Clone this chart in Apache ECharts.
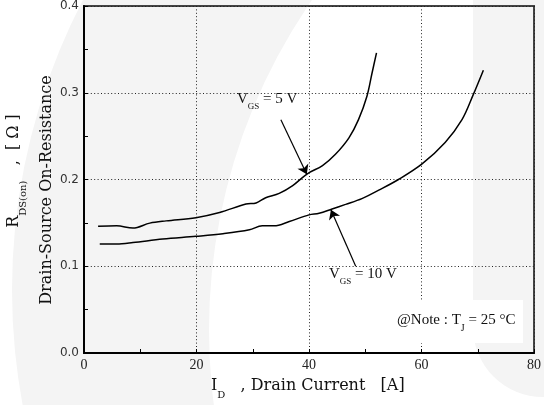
<!DOCTYPE html>
<html><head><meta charset="utf-8">
<script src="https://cdn.jsdelivr.net/npm/echarts@6/dist/echarts.min.js"></script>
<style>html,body{margin:0;padding:0;background:#fff}#c{width:544px;height:405px}</style>
</head><body><div id="c"></div>
<script>
// ---- data ----
const xTicks = [0, 20, 40, 60, 80];
const yTicks = [0.0, 0.1, 0.2, 0.3, 0.4];
// VGS = 5 V
const id5 = [2.5, 5.8, 8.7, 11.7, 14.6, 19.9, 24.1, 28.8, 30.6, 32.3, 34.7, 37.1, 39.7, 42.4, 44.7, 47.1, 48.8, 50.3, 51.2, 52.0];
const r5  = [0.146, 0.1466, 0.144, 0.1497, 0.1523, 0.156, 0.162, 0.1717, 0.173, 0.179, 0.184, 0.193, 0.2066, 0.216, 0.229, 0.248, 0.269, 0.296, 0.3225, 0.346];
// VGS = 10 V
const id10 = [2.8, 5.8, 8.7, 14.0, 19.9, 24.7, 29.4, 31.7, 33.8, 36.5, 40.0, 41.8, 44.1, 46.5, 49.4, 52.4, 55.9, 60.1, 64.2, 67.2, 69.2, 71.0];
const r10  = [0.1257, 0.1257, 0.1273, 0.1314, 0.1345, 0.1375, 0.142, 0.1466, 0.1466, 0.1516, 0.1592, 0.161, 0.166, 0.1713, 0.178, 0.1877, 0.2, 0.218, 0.2427, 0.269, 0.2978, 0.326];
// annotation arrows (data coordinates: start -> head)
const arrow5  = [[35.0, 0.269], [39.6, 0.206]];
const arrow10 = [[48.3, 0.100], [43.9, 0.165]];

const GREY = '#f4f4f4';
const serif = 'DejaVu Serif';
const lserif = 'Liberation Serif';

function pairs(xs, ys) { return xs.map((x, i) => [x, ys[i]]); }

const chart = echarts.init(document.getElementById('c'), null, {renderer: 'canvas'});

const subRich = (fam, big, small, pad) => ({
  m: {fontFamily: fam, fontSize: big, lineHeight: big + 2, fill: '#111'},
  s: {fontFamily: fam, fontSize: small, lineHeight: big + 2, fill: '#111', padding: [pad, 0, 0, 0]}
});

const markArrow = (a) => ({
  silent: true,
  symbol: ['none', 'arrow'],
  symbolSize: 9,
  label: {show: false},
  lineStyle: {color: '#000', width: 1.2, type: 'solid'},
  emphasis: {disabled: true},
  data: [[{coord: a[0]}, {coord: a[1]}]]
});

chart.setOption({
  animation: false,
  backgroundColor: '#fff',
  grid: {left: 84, right: 8, top: 2, bottom: 52, show: true, borderColor: '#444', borderWidth: 2, backgroundColor: 'transparent'},
  xAxis: {
    type: 'value', min: xTicks[0], max: xTicks[xTicks.length - 1], interval: 20,
    axisLine: {lineStyle: {color: '#000', width: 2}},
    axisTick: {inside: true, length: 4, lineStyle: {color: '#000', width: 1}},
    minorTick: {show: true, splitNumber: 2, length: 4, lineStyle: {color: '#000', width: 1}},
    axisLabel: {margin: 5, color: '#222', fontFamily: lserif, fontSize: 14,
      formatter: v => xTicks.includes(v) ? String(v) : ''},
    splitLine: {show: true, lineStyle: {color: '#222', width: 1, type: [1, 2.4]}}
  },
  yAxis: {
    type: 'value', min: yTicks[0], max: yTicks[yTicks.length - 1], interval: 0.1,
    axisLine: {show: true, lineStyle: {color: '#000', width: 2}},
    axisTick: {show: true, inside: true, length: 4, lineStyle: {color: '#000', width: 1}},
    minorTick: {show: true, splitNumber: 2, length: 4, lineStyle: {color: '#000', width: 1}},
    axisLabel: {margin: 5, color: '#333', fontFamily: 'DejaVu Sans', fontSize: 12,
      formatter: v => v.toFixed(1)},
    splitLine: {show: true, lineStyle: {color: '#222', width: 1, type: [1, 2.4]}}
  },
  series: [
    {type: 'line', name: 'VGS = 5 V', data: pairs(id5, r5), showSymbol: false, smooth: 0.35,
     lineStyle: {color: '#000', width: 1.5}, z: 5, markLine: markArrow(arrow5)},
    {type: 'line', name: 'VGS = 10 V', data: pairs(id10, r10), showSymbol: false, smooth: 0.35,
     lineStyle: {color: '#000', width: 1.5}, z: 5, markLine: markArrow(arrow10)}
  ],
  graphic: [
    // watermark
    {type: 'circle', z: -100, silent: true, shape: {cx: 640, cy: 290, r: 628}, style: {fill: GREY}},
    {type: 'circle', z: -99, silent: true, shape: {cx: 789, cy: 330, r: 580}, style: {fill: '#fff'}},
    {type: 'rect', z: -98, silent: true, shape: {x: 473, y: -100, width: 200, height: 497, r: 70}, style: {fill: GREY}},
    // note box
    {type: 'rect', z: 50, silent: true, shape: {x: 390, y: 300, width: 133, height: 43}, style: {fill: '#fff'}},
    {type: 'text', z: 51, x: 397, y: 320, style: {
      text: '{m|@Note : T}{s|J}{m| = 25 °C}', align: 'left', verticalAlign: 'middle',
      rich: subRich(lserif, 15, 10, 16)}},
    // curve labels
    {type: 'text', z: 51, x: 237, y: 99, style: {
      text: '{m|V}{s|GS}{m| = 5 V}', align: 'left', verticalAlign: 'middle',
      rich: subRich(lserif, 15, 9, 16)}},
    {type: 'text', z: 51, x: 329, y: 274, style: {
      text: '{m|V}{s|GS}{m| = 10 V}', align: 'left', verticalAlign: 'middle',
      rich: subRich(lserif, 15, 9, 16)}},
    // x axis title
    {type: 'text', z: 51, x: 211, y: 386, style: {
      text: '{m|I}{s|D}{m|   , Drain Current   [A]}', align: 'left', verticalAlign: 'middle',
      rich: subRich(serif, 16, 10, 18)}},
    // y axis title, two lines
    {type: 'text', z: 51, x: 14, y: 171, rotation: Math.PI / 2, style: {
      text: '{m|R}{s|DS(on)}{m|   ,  [ Ω ]}', align: 'center', verticalAlign: 'middle',
      rich: subRich(serif, 16, 10, 18)}},
    {type: 'text', z: 51, x: 47, y: 190, rotation: Math.PI / 2, style: {
      text: 'Drain-Source On-Resistance', align: 'center', verticalAlign: 'middle',
      fontFamily: serif, fontSize: 16, fill: '#111'}}
  ]
});
</script></body></html>
